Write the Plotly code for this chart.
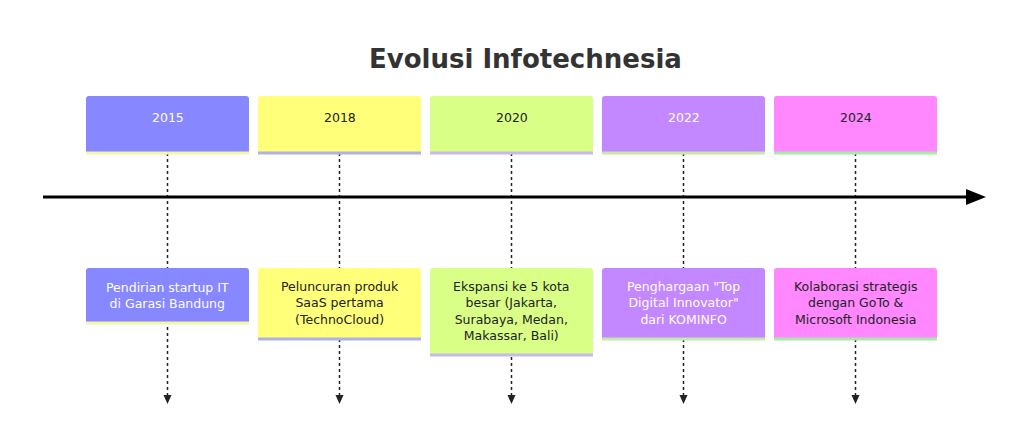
import plotly.graph_objects as go

years = ["2015", "2018", "2020", "2022", "2024"]
events = [
    ["Pendirian startup IT", "di Garasi Bandung"],
    ["Peluncuran produk", "SaaS pertama", "(TechnoCloud)"],
    ["Ekspansi ke 5 kota", "besar (Jakarta,", "Surabaya, Medan,", "Makassar, Bali)"],
    ["Penghargaan \"Top", "Digital Innovator\"", "dari KOMINFO"],
    ["Kolaborasi strategis", "dengan GoTo &", "Microsoft Indonesia"],
]
fills = ["#8787ff", "#ffff7a", "#d9ff87", "#c387ff", "#ff87ff"]
strips = ["#f5f5a8", "#b0b0e8", "#c8b8f0", "#c8e8a8", "#a8e8a8"]
textcols = ["#ffffff", "#222222", "#222222", "#ffffff", "#222222"]
title = "Evolusi Infotechnesia"

W, H = 1024, 445
OFF = 8
fig = go.Figure()
shapes, annos = [], []
FONT = "DejaVu Sans"

def rrect(x0, y0, x1, y1, r=3):
    return (f"M{x0+r},{y0} L{x1-r},{y0} Q{x1},{y0} {x1},{y0+r} L{x1},{y1} "
            f"L{x0},{y1} L{x0},{y0+r} Q{x0},{y0} {x0+r},{y0} Z")

for i, (yr, ev) in enumerate(zip(years, events)):
    x0 = 86 + 172 * i
    x1 = x0 + 163
    cx = (x0 + x1) / 2
    shapes.append(dict(type="line", x0=cx, x1=cx, y0=153, y1=396,
                       line=dict(color="#222", width=1.5, dash="3px,3px"), layer="below"))
    shapes.append(dict(type="path", path=f"M{cx-4},{395} L{cx+4},{395} L{cx},{404} Z",
                       fillcolor="#222", line=dict(width=0)))
    shapes.append(dict(type="path", path=rrect(x0, 96, x1, 152), fillcolor=fills[i],
                       line=dict(width=0)))
    shapes.append(dict(type="line", x0=x0, x1=x1, y0=153, y1=153,
                       line=dict(color=strips[i], width=3)))
    annos.append(dict(x=cx, y=117, text=yr, showarrow=False,
                      font=dict(family=FONT, size=12.5, color=textcols[i])))
    n = len(ev)
    yb = 268 + 22 + 16 * n
    shapes.append(dict(type="path", path=rrect(x0, 268, x1, yb), fillcolor=fills[i],
                       line=dict(width=0)))
    shapes.append(dict(type="line", x0=x0, x1=x1, y0=yb + 1, y1=yb + 1,
                       line=dict(color=strips[i], width=3)))
    annos.append(dict(x=cx, y=(268 + yb) / 2, text="<br>".join(ev), showarrow=False,
                      font=dict(family=FONT, size=12.5, color=textcols[i])))

shapes.append(dict(type="line", x0=43, x1=972, y0=197, y1=197,
                   line=dict(color="#000", width=3)))
shapes.append(dict(type="path", path="M966,189 L986,197 L966,205 Z",
                   fillcolor="#000", line=dict(width=0)))
annos.append(dict(x=525, y=59, text=f"<b>{title}</b>", showarrow=False,
                  font=dict(family=FONT, size=26, color="#333")))

fig.update_layout(width=W, height=H, margin=dict(l=0, r=0, t=0, b=0),
                  plot_bgcolor="white", paper_bgcolor="white",
                  shapes=shapes, annotations=annos, showlegend=False,
                  xaxis=dict(range=[OFF, W + OFF], visible=False, fixedrange=True),
                  yaxis=dict(range=[H + OFF, OFF], visible=False, fixedrange=True))
fig.write_html("out.html", config={"displayModeBar": False})
